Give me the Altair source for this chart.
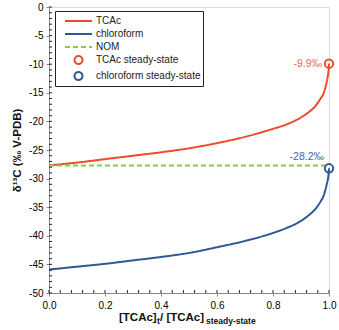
import altair as alt
import pandas as pd

# fraction of steady-state TCAc concentration
frac = [0.0, 0.1, 0.2, 0.3, 0.4, 0.5, 0.6, 0.7, 0.8, 0.85, 0.9, 0.93, 0.95,
        0.97, 0.98, 0.99, 0.995, 0.998, 1.0]
# delta 13C (permil V-PDB)
tcac = [-27.7, -27.2, -26.6, -26.0, -25.4, -24.7, -23.8, -22.7, -21.3, -20.5,
        -19.3, -18.3, -17.4, -16.0, -15.2, -13.5, -12.3, -11.3, -9.9]
chloroform = [-45.9, -45.4, -44.9, -44.3, -43.7, -43.0, -42.0, -40.9, -39.5,
              -38.6, -37.4, -36.3, -35.4, -34.0, -33.1, -31.4, -30.3, -29.5, -28.2]
nom_value = -27.7
nom_x = [0.0, 1.0]

steady_names = ["TCAc steady-state", "chloroform steady-state"]
steady_x = [1.0, 1.0]
steady_y = [-9.9, -28.2]
steady_text_colors = ["#f26a52", "#46659f"]

# legend symbol paths: a long horizontal stroke and a ring at its middle
STROKE_PATH = "M0,0H3.86"
RING_PATH = "M2.5,0A0.57,0.57 0 1,1 1.36,0A0.57,0.57 0 1,1 2.5,0Z"

series_names = ["TCAc", "chloroform", "NOM", "TCAc steady-state", "chloroform steady-state"]
series_colors = ["#ee4a2c", "#2f5898", "#8cc84b", "#ee4a2c", "#2f5898"]
series_shapes = [STROKE_PATH, STROKE_PATH, STROKE_PATH, RING_PATH, RING_PATH]
series_dash = [[1, 0], [1, 0], [5, 3], [1, 0], [1, 0]]

x_major = [0, 0.2, 0.4, 0.6, 0.8, 1.0]
y_major = list(range(-50, 1, 5))
x_minor = [round(i * 0.04, 2) for i in range(26)]
y_minor = list(range(-50, 1))

lines = pd.concat([
    pd.DataFrame({"f": frac, "d": tcac, "series": "TCAc", "order": range(len(frac))}),
    pd.DataFrame({"f": frac, "d": chloroform, "series": "chloroform", "order": range(len(frac))}),
    pd.DataFrame({"f": nom_x, "d": [nom_value] * 2, "series": "NOM", "order": [0, 1]}),
])
points = pd.DataFrame({"f": steady_x, "d": steady_y, "series": steady_names,
                       "tcolor": steady_text_colors})
points["label"] = [f"{v}‰" for v in steady_y]

W, H = 280, 286
FONT = "Liberation Sans"

xs = alt.Scale(domain=[0, 1], nice=False, zero=False)
ys = alt.Scale(domain=[-50, 0], nice=False, zero=False)

legend = alt.Legend(
    title=None, orient="none", legendX=6, legendY=4,
    strokeColor="#222", padding=2, fillColor="white",
    labelFont=FONT, labelFontSize=10, labelColor="#222",
    symbolSize=196, rowPadding=0, labelOffset=23, symbolStrokeWidth=2,
    symbolFillColor="transparent",
)
color = alt.Color("series:N", scale=alt.Scale(domain=series_names, range=series_colors), legend=legend)
dash = alt.StrokeDash("series:N", scale=alt.Scale(domain=series_names, range=series_dash), legend=legend)
shape = alt.Shape("series:N", scale=alt.Scale(domain=series_names, range=series_shapes), legend=legend)

x_axis = alt.Axis(values=x_major, format=".1f", title=None, labelFlush=False,
                  tickSize=3, labelPadding=4, grid=False)
y_axis = alt.Axis(values=y_major, title="δ¹³C (‰ V-PDB)", titleFont=FONT, labelOverlap=False,
                  labelFlush=False, labelExpr="toString(datum.value)",
                  titleFontSize=11.5, titleFontWeight="bold", titleColor="#111", titlePadding=6,
                  tickSize=3, labelPadding=3, grid=False)
x_enc = alt.X("f:Q", scale=xs, axis=x_axis)
y_enc = alt.Y("d:Q", scale=ys, axis=y_axis)

line_layer = alt.Chart(lines).mark_line(strokeWidth=2, interpolate="monotone").encode(
    x=x_enc, y=y_enc, color=color, strokeDash=dash, detail="series:N", order="order:Q")

# steady-state circles in the plot
point_layer = alt.Chart(points).mark_point(
    filled=False, strokeWidth=2, opacity=1, size=70, shape="circle"
).encode(x=x_enc, y=y_enc, color=color)

# carries the legend symbols only (no rows drawn)
legend_layer = alt.Chart(points).transform_filter("false").mark_point(
    filled=False, strokeWidth=2, opacity=1
).encode(x=x_enc, y=y_enc, color=color, shape=shape)

label_tcac = alt.Chart(points).transform_filter(
    alt.datum.series == "TCAc steady-state"
).mark_text(align="right", font=FONT, fontSize=10.5, dx=-7, dy=0).encode(
    x=x_enc, y=y_enc, text="label:N", color=alt.Color("tcolor:N", scale=None))
label_chcl3 = alt.Chart(points).transform_filter(
    alt.datum.series == "chloroform steady-state"
).mark_text(align="right", font=FONT, fontSize=10.5, dx=-5, dy=-11).encode(
    x=x_enc, y=y_enc, text="label:N", color=alt.Color("tcolor:N", scale=None))

# inner minor ticks
xtick = alt.Chart(pd.DataFrame({"f": x_minor})).mark_rule(color="#222", strokeWidth=1).encode(
    x=x_enc, y=alt.value(H), y2=alt.value(H - 3))
ytick = alt.Chart(pd.DataFrame({"d": y_minor})).mark_rule(color="#222", strokeWidth=1).encode(
    y=y_enc, x=alt.value(0), x2=alt.value(3))

# x-axis title with subscripts
tx, ty = 70, 314
big = dict(font=FONT, fontWeight="bold", fontSize=11.5, color="#111", align="left", baseline="alphabetic")
small = dict(font=FONT, fontWeight="bold", fontSize=8.5, color="#111", align="left", baseline="alphabetic")
t1 = alt.Chart().mark_text(text="[TCAc]", **big).encode(x=alt.value(tx), y=alt.value(ty))
t2 = alt.Chart().mark_text(text="t", **small).encode(x=alt.value(tx + 38), y=alt.value(ty + 3))
t3 = alt.Chart().mark_text(text=" / [TCAc]", **big).encode(x=alt.value(tx + 41), y=alt.value(ty))
t4 = alt.Chart().mark_text(text="steady-state", **small).encode(x=alt.value(tx + 87), y=alt.value(ty + 3))

chart = alt.layer(
    line_layer, point_layer, legend_layer, label_tcac, label_chcl3, xtick, ytick, t1, t2, t3, t4
).properties(
    width=W, height=H,
    autosize=alt.AutoSizeParams(type="none"),
    padding={"left": 49, "top": 7, "right": 10, "bottom": 37},
).configure_view(stroke="#8a8a8a", strokeWidth=1).configure_axis(
    labelFont=FONT, labelFontSize=10.5, labelColor="#333",
    domainColor="#333", tickColor="#333",
).configure(background="white")

chart.save("out.html", embed_options={"renderer": "svg", "actions": False})
